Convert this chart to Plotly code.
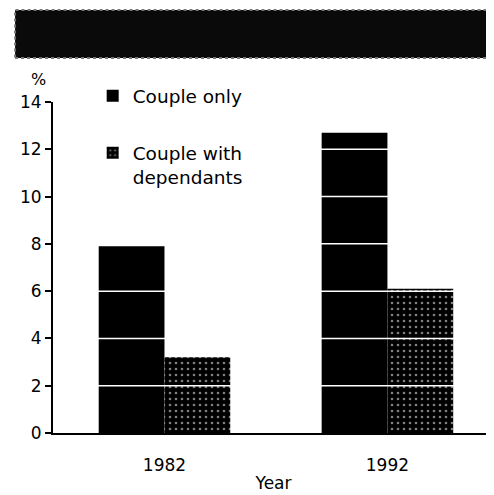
import plotly.graph_objects as go

years = ["1982", "1992"]
couple_only = [7.9, 12.7]
couple_dependants = [3.2, 6.1]
y_ticks = [0, 2, 4, 6, 8, 10, 12, 14]

FONT = "DejaVu Sans"

fig = go.Figure()
fig.add_trace(go.Bar(
    x=years, y=couple_only, name="Couple only",
    marker=dict(color="black", line=dict(width=0)),
    legendgroup="a",
))
fig.add_trace(go.Bar(
    x=years, y=couple_dependants, name="Couple with<br>dependants",
    marker=dict(color="black", line=dict(width=0),
                pattern=dict(shape=".", fgcolor="white", bgcolor="black",
                             size=6, solidity=0.15)),
    legendgroup="b",
))

# white gridlines drawn over the bars
for v in y_ticks[1:-1]:
    fig.add_shape(type="line", xref="paper", yref="y", x0=0, x1=1, y0=v, y1=v,
                  line=dict(color="white", width=1.5), layer="above")

# dark title band (illegible in the original)
fig.add_shape(type="rect", xref="paper", yref="paper",
              x0=-0.086, x1=1.02, y0=1.133, y1=1.278,
              fillcolor="#0a0a0a", line=dict(color="#777", width=2, dash="dot"),
              layer="above")

fig.add_annotation(text="%", xref="paper", yref="paper", x=-0.034, y=1.068,
                   xanchor="center", yanchor="middle",
                   showarrow=False, font=dict(family=FONT, size=16, color="black"))

fig.update_layout(
    width=486, height=487,
    margin=dict(l=45, r=0, t=94, b=62),
    paper_bgcolor="white", plot_bgcolor="white",
    barmode="group", bargap=0.41, bargroupgap=0,
    font=dict(family=FONT, size=17, color="black"),
    showlegend=True,
    legend=dict(x=0.09, y=1.075, xanchor="left", yanchor="top",
                traceorder="grouped", tracegroupgap=30, valign="top",
                bgcolor="rgba(0,0,0,0)", font=dict(family=FONT, size=18.5)),
    xaxis=dict(range=[-0.5, 1.478], showline=True, linecolor="black", linewidth=2,
               ticks="", showgrid=False, zeroline=False, ticklabelstandoff=16,
               title=dict(text="Year", standoff=3, font=dict(family=FONT, size=17)),
               tickfont=dict(family=FONT, size=17)),
    yaxis=dict(range=[0, 14], tickvals=y_ticks, showline=True, linecolor="black",
               linewidth=2, ticks="outside", ticklen=6, tickwidth=2, tickcolor="black",
               showgrid=False, zeroline=False, tickfont=dict(family=FONT, size=17)),
)

fig.write_html("out.html")
